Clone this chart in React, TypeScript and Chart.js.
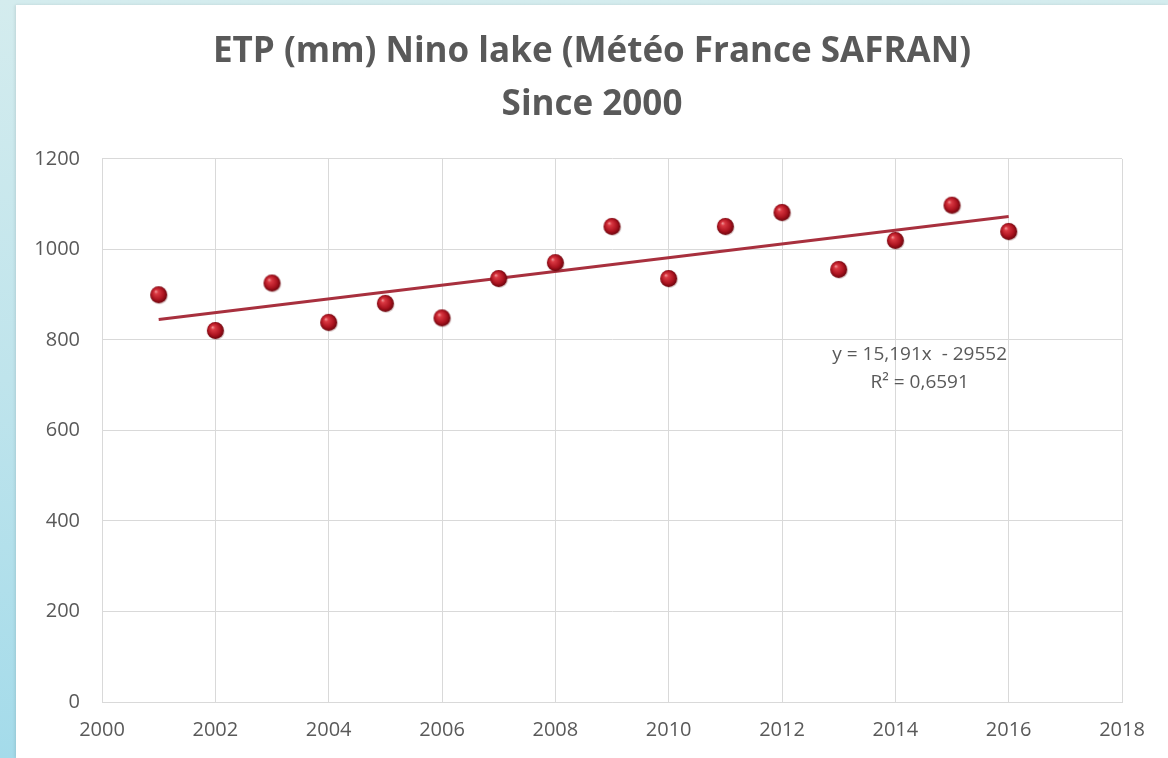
import React, { useEffect, useRef } from "react";
import { Chart, registerables } from "chart.js";

Chart.register(...registerables);

const titleLines = ["ETP (mm) Nino lake (Météo France SAFRAN)", "Since 2000"];
const years = [2001, 2002, 2003, 2004, 2005, 2006, 2007, 2008, 2009, 2010, 2011, 2012, 2013, 2014, 2015, 2016];
const etpValues = [900, 821, 926, 839, 881, 849, 936, 971, 1051, 936, 1051, 1082, 956, 1020, 1098, 1040];
const trendYears = [2001, 2016];
const trendSlope = 15.191;
const trendIntercept = -29552;
const equationLines = ["y = 15,191x  - 29552", "R² = 0,6591"];
const equationAnchor = [2014.43, 767.5, 705.4]; // x, y line1, y line2 (data units)
const xRange = [2000, 2018];
const xStep = 2;
const yRange = [0, 1200];
const yStep = 200;

const TEXT = "#595959";
const GRID = "#d9d9d9";

function makeSphere(r: number): HTMLCanvasElement {
  const size = Math.ceil(2 * r + 4);
  const c = document.createElement("canvas");
  c.width = size;
  c.height = size;
  const ctx = c.getContext("2d")!;
  const cx = size / 2;
  const cy = size / 2;
  ctx.beginPath();
  ctx.arc(cx + 0.8, cy + 1, r, 0, Math.PI * 2);
  ctx.fillStyle = "rgba(80,0,0,0.22)";
  ctx.fill();
  const g = ctx.createRadialGradient(cx - r * 0.35, cy - r * 0.4, 0, cx, cy, r * 1.1);
  g.addColorStop(0, "#f4a0a0");
  g.addColorStop(0.22, "#da3842");
  g.addColorStop(0.65, "#ac1420");
  g.addColorStop(1, "#5e0008");
  ctx.beginPath();
  ctx.arc(cx, cy, r, 0, Math.PI * 2);
  ctx.fillStyle = g;
  ctx.fill();
  return c;
}

const equationPlugin = {
  id: "equationLabel",
  afterDatasetsDraw(chart: any) {
    const { ctx, scales } = chart;
    const x = scales.x.getPixelForValue(equationAnchor[0]);
    ctx.save();
    ctx.font = "19px 'Open Sans', sans-serif";
    ctx.fillStyle = TEXT;
    ctx.textAlign = "center";
    ctx.textBaseline = "middle";
    ctx.fillText(equationLines[0], x, scales.y.getPixelForValue(equationAnchor[1]));
    ctx.fillText(equationLines[1], x, scales.y.getPixelForValue(equationAnchor[2]));
    ctx.restore();
  },
};

export default function App() {
  const ref = useRef<HTMLCanvasElement | null>(null);

  useEffect(() => {
    if (!ref.current) return;
    const sphere = makeSphere(8.5);
    const scatterData = years.map((y, i) => ({ x: y, y: etpValues[i] }));
    const trendData = trendYears.map((y) => ({ x: y, y: trendSlope * y + trendIntercept }));
    const chart = new Chart(ref.current, {
      type: "scatter",
      data: {
        datasets: [
          {
            label: "Trend",
            data: trendData,
            showLine: true,
            borderColor: "#a8303e",
            borderWidth: 3,
            pointRadius: 0,
            fill: false,
            order: 2,
          },
          {
            label: "ETP",
            data: scatterData,
            pointStyle: sphere as any,
            pointRadius: 9,
            order: 1,
          },
        ],
      },
      options: {
        animation: false,
        responsive: false,
        layout: { padding: { top: 21, left: 0, right: 0, bottom: 0 } },
        plugins: {
          legend: { display: false },
          tooltip: { enabled: false },
          title: {
            display: true,
            text: titleLines,
            color: TEXT,
            font: { family: "'Open Sans', sans-serif", size: 35, weight: "bold", lineHeight: 1.514 },
            padding: { top: 0, bottom: 27 },
          },
        },
        scales: {
          x: {
            type: "linear",
            min: xRange[0],
            max: xRange[1],
            ticks: {
              stepSize: xStep,
              color: TEXT,
              font: { family: "'Open Sans', sans-serif", size: 20 },
              padding: 16,
              callback: (v: any) => String(v),
            },
            grid: { color: GRID, drawTicks: false, lineWidth: 1 },
            border: { color: GRID },
          },
          y: {
            type: "linear",
            min: yRange[0],
            max: yRange[1],
            afterFit: (scale: any) => {
              scale.width = 86;
            },
            ticks: {
              stepSize: yStep,
              color: TEXT,
              font: { family: "'Open Sans', sans-serif", size: 20 },
              padding: 22,
              callback: (v: any) => String(v),
            },
            grid: { color: GRID, drawTicks: false, lineWidth: 1 },
            border: { color: GRID },
          },
          yRightSpace: {
            type: "linear",
            position: "right",
            min: yRange[0],
            max: yRange[1],
            afterFit: (scale: any) => {
              scale.width = 46;
            },
            ticks: { display: false },
            grid: { display: false, drawOnChartArea: false, drawTicks: false },
            border: { display: false },
          },
        },
      },
      plugins: [equationPlugin],
    } as any);
    return () => chart.destroy();
  }, []);

  return (
    <div
      style={{
        position: "fixed",
        left: 0,
        top: 0,
        width: 1168,
        height: 758,
        background: "linear-gradient(to bottom, #d4ecee 0%, #bfe4ec 50%, #a4dbea 100%)",
        overflow: "hidden",
      }}
    >
      <div
        style={{
          position: "absolute",
          left: 16,
          top: 5,
          width: 1152,
          height: 753,
          background: "#ffffff",
          boxShadow: "-1px 0 3px rgba(0,0,0,0.10)",
        }}
      >
        <canvas ref={ref} width={1152} height={753} style={{ display: "block" }} />
      </div>
    </div>
  );
}
